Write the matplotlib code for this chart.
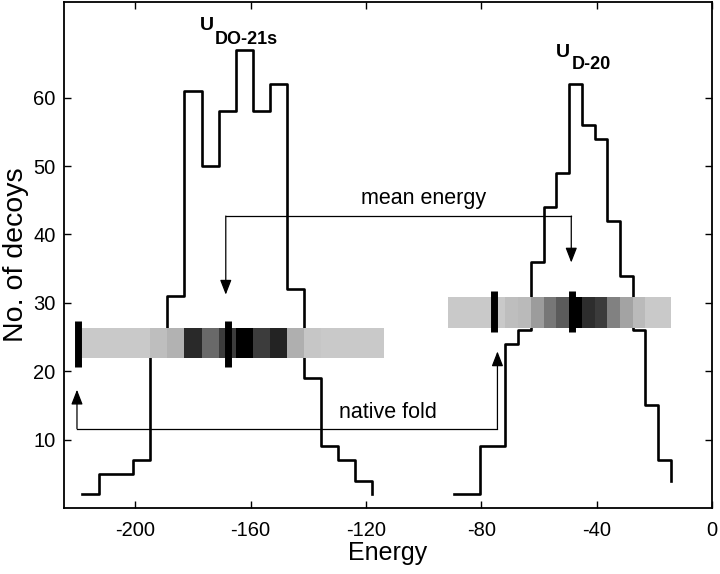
import numpy as np
import matplotlib
matplotlib.use("Agg")
import matplotlib.pyplot as plt
from matplotlib.colors import LinearSegmentedColormap, PowerNorm

plt.rcParams["font.family"] = ["Liberation Sans", "DejaVu Sans"]
plt.rcParams["axes.unicode_minus"] = False

# ------------------------------------------------------------
#  data
# ------------------------------------------------------------
# U_DO-21s histogram (stairs: x = left edge of each bin, last point = end)
e_do21s = [-218.5, -212.6, -206.7, -200.7, -194.8, -188.9, -183.0, -177.0, -171.1,
           -165.2, -159.3, -153.4, -147.4, -141.5, -135.6, -129.7, -123.8, -117.8]
n_do21s = [2, 5, 5, 7, 25, 31, 61, 50, 58, 67, 58, 62, 32, 19, 9, 7, 4, 2]

# U_D-20 histogram
e_d20 = [-89.3, -84.9, -80.5, -76.1, -71.7, -67.2, -62.8, -58.4, -54.0,
         -49.6, -45.2, -40.7, -36.3, -31.9, -27.5, -23.1, -18.7, -14.2]
n_d20 = [2, 2, 9, 9, 24, 26, 36, 44, 49, 62, 56, 54, 42, 34, 26, 15, 7, 4]

# native fold and mean energy for each potential
native_do21s, mean_do21s = -219.9, -168.0
native_d20, mean_d20 = -75.5, -48.4

xticks = [-200, -160, -120, -80, -40, 0]
yticks = [10, 20, 30, 40, 50, 60]

# ------------------------------------------------------------
fig = plt.figure(figsize=(7.2, 5.74), dpi=100)
ax = fig.add_axes([64 / 720, 66 / 574, 648 / 720, 506 / 574])

light = (0.79, 0.79, 0.79)
cmap = LinearSegmentedColormap.from_list("bar", [light, (0, 0, 0)])


def draw_hist(edges, counts):
    ax.step(edges, counts, where="post", color="black", lw=1.9, zorder=2)


def draw_bar(edges, counts, xlim, ylim, native, mean, mk_ylim):
    # light background strip, then the shaded bins on top
    ax.fill_between(xlim, ylim[0], ylim[1], color=light, lw=0, zorder=3)
    c = np.array(counts[:-1], dtype=float)[None, :]
    ax.pcolormesh(edges, ylim, c, cmap=cmap,
                  norm=PowerNorm(gamma=2.0, vmin=12, vmax=max(counts)),
                  shading="flat", zorder=4)
    for xm in (native, mean):
        ax.plot([xm, xm], mk_ylim, color="black", lw=5.0,
                solid_capstyle="butt", zorder=5)


def elbow_arrows(x1, x2, y_line, tip1, tip2):
    ax.plot([x1, x2], [y_line, y_line], color="black", lw=0.9, zorder=6)
    for xa, tip in ((x1, tip1), (x2, tip2)):
        ax.annotate("", xy=(xa, tip), xytext=(xa, y_line),
                    arrowprops=dict(arrowstyle="-|>,head_length=0.9,head_width=0.35",
                                    color="black", lw=0.9, shrinkA=0, shrinkB=0),
                    zorder=6)


draw_hist(e_do21s, n_do21s)
draw_hist(e_d20, n_d20)

draw_bar(e_do21s, n_do21s, [-217.1, -113.6], [21.9, 26.3],
         native_do21s, mean_do21s, [20.6, 27.3])
draw_bar(e_d20, n_d20, [-91.4, -14.2], [26.3, 30.8],
         native_d20, mean_d20, [25.7, 31.8])

elbow_arrows(mean_do21s - 0.6, mean_d20 - 0.4, 42.7, 31.2, 35.9)
elbow_arrows(native_do21s - 0.3, native_d20 + 1.1, 11.6, 17.3, 22.9)

ax.text(-100.1, 44.4, "mean energy", ha="center", va="baseline", fontsize=15.5)
ax.text(-112.5, 13.2, "native fold", ha="center", va="baseline", fontsize=15.5)

# potential names
ax.text(-177.6, 69.9, "U", fontsize=14, fontweight="bold", va="baseline")
ax.text(-172.4, 67.9, "DO-21s", fontsize=13, fontweight="bold", va="baseline")
ax.text(-54.0, 66.0, "U", fontsize=14, fontweight="bold", va="baseline")
ax.text(-48.8, 64.2, "D-20", fontsize=13, fontweight="bold", va="baseline")

ax.set_xlim(-224.7, 0)
ax.set_ylim(0, 74)
ax.set_xticks(xticks)
ax.set_yticks(yticks)
ax.tick_params(direction="in", top=True, right=True, length=5, width=1,
               labelsize=14.5)
ax.tick_params(axis="x", pad=9)
ax.tick_params(axis="y", pad=6)
for s in ax.spines.values():
    s.set_linewidth(1.3)

ax.set_xlabel("Energy", fontsize=18, labelpad=1)
ax.set_ylabel("No. of decoys", fontsize=20.5, labelpad=3)

fig.savefig("out.png", dpi=100)
